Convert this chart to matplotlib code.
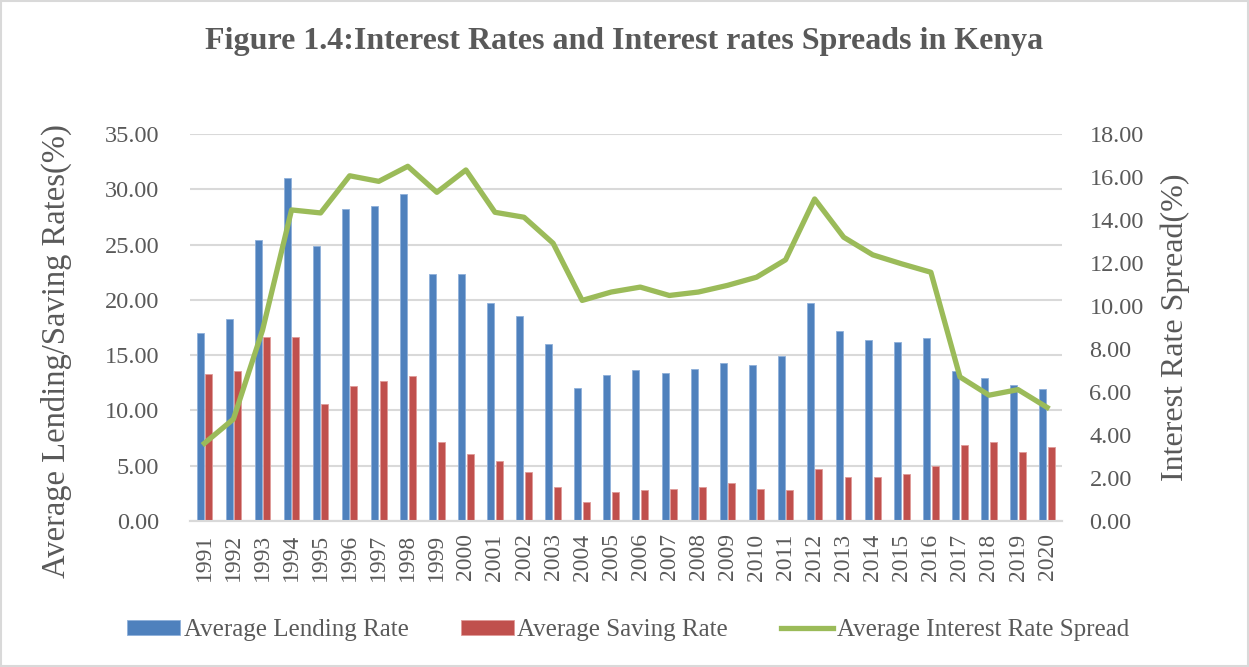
import numpy as np
import matplotlib.pyplot as plt
from matplotlib.patches import Rectangle

# Interest rates in Kenya, 1991-2020
years = [str(y) for y in range(1991, 2021)]
lending_rate = [17.0, 18.3, 25.45, 31.05, 24.9, 28.25, 28.5, 29.6, 22.35, 22.35,
                19.74, 18.53, 15.97, 12.03, 13.24, 13.63, 13.36, 13.72, 14.32, 14.14,
                14.92, 19.7, 17.15, 16.4, 16.16, 16.52, 13.54, 12.97, 12.27, 11.94]
saving_rate = [13.33, 13.57, 16.6, 16.6, 10.6, 12.25, 12.7, 13.15, 7.1, 6.05,
               5.39, 4.42, 3.07, 1.74, 2.59, 2.77, 2.86, 3.07, 3.43, 2.86,
               2.77, 4.69, 4.0, 4.0, 4.21, 4.94, 6.86, 7.1, 6.2, 6.68]
rate_spread = [3.61, 4.74, 8.87, 14.47, 14.33, 16.06, 15.8, 16.5, 15.29, 16.33,
               14.36, 14.13, 12.92, 10.26, 10.65, 10.88, 10.49, 10.65, 10.96, 11.34,
               12.15, 14.98, 13.2, 12.38, 11.96, 11.57, 6.7, 5.85, 6.11, 5.28]
left_ticks = [0, 5, 10, 15, 20, 25, 30, 35]
right_ticks = [0, 2, 4, 6, 8, 10, 12, 14, 16, 18]

BLUE = '#4F81BD'
RED = '#C0504D'
GREEN = '#9BBB59'
TEXT = '#595959'
GRID = '#D9D9D9'

plt.rcParams['font.family'] = ['Liberation Serif', 'DejaVu Serif']

fig = plt.figure(figsize=(12.49, 6.67), dpi=100)
ax = fig.add_axes([0.152, 0.219, 0.698, 0.580])
ax2 = ax.twinx()

x = np.arange(len(years))
bar_w = 0.24
ax.bar(x - 0.148, lending_rate, width=bar_w, color=BLUE, edgecolor='#8FB0DA',
       linewidth=0.6, label='Average Lending Rate', zorder=3)
ax.bar(x + 0.148, saving_rate, width=bar_w, color=RED, edgecolor='#E09A98',
       linewidth=0.6, label='Average Saving Rate', zorder=3)
ax2.plot(x, rate_spread, color=GREEN, linewidth=3.8, solid_joinstyle='round',
         label='Average Interest Rate Spread', zorder=4)

ax.set_xlim(-0.5, len(years) - 0.5)
ax.set_ylim(0, 35)
ax2.set_ylim(0, 18)
ax.set_yticks(left_ticks)
ax.set_yticklabels([f'{v:.2f}' for v in left_ticks])
ax2.set_yticks(right_ticks)
ax2.set_yticklabels([f'{v:.2f}' for v in right_ticks])
ax.set_xticks(x)
ax.set_xticklabels(years, rotation=90)

ax.grid(axis='y', color=GRID, linewidth=1.5, zorder=0)
ax.set_axisbelow(True)
for a in (ax, ax2):
    for side in ('top', 'left', 'right'):
        a.spines[side].set_visible(False)
    a.spines['bottom'].set_color(GRID)
    a.spines['bottom'].set_linewidth(1.5)
ax.tick_params(axis='x', length=0, pad=9, labelsize=17, labelcolor=TEXT)
ax.tick_params(axis='y', length=0, pad=22, labelsize=17.5, labelcolor=TEXT)
ax2.tick_params(axis='y', length=0, pad=20, labelsize=17.5, labelcolor=TEXT)

ax.set_ylabel('Average Lending/Saving Rates(%)', fontsize=23.5, color=TEXT)
ax.yaxis.set_label_coords(-0.135, 0.44)
ax2.set_ylabel('Interest Rate Spread(%)', fontsize=23, color=TEXT, labelpad=12)

fig.suptitle('Figure 1.4:Interest Rates and Interest rates Spreads in Kenya',
             x=0.5, y=0.96, fontsize=23, fontweight='bold', color=TEXT)

h1, l1 = ax.get_legend_handles_labels()
h2, l2 = ax2.get_legend_handles_labels()
fig.legend(h1 + h2, l1 + l2, loc='center', bbox_to_anchor=(0.503, 0.055), ncol=3,
           frameon=False, fontsize=18, labelcolor=TEXT, handlelength=2.1,
           handleheight=0.55, handletextpad=0.15, columnspacing=2.1)

# light border round the whole chart area
fig.add_artist(Rectangle((0.001, 0.002), 0.998, 0.996, transform=fig.transFigure,
                         fill=False, edgecolor=GRID, linewidth=1.5))

fig.savefig('out.png', dpi=100)
